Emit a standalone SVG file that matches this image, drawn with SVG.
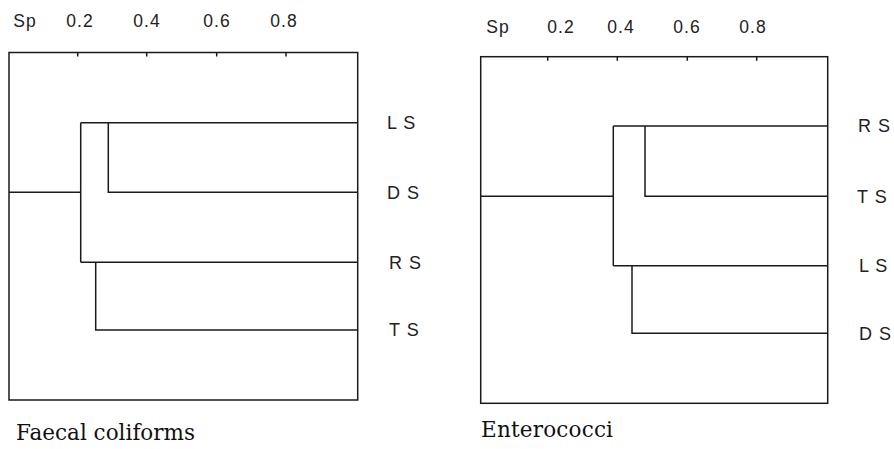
<svg xmlns="http://www.w3.org/2000/svg" width="894" height="449" viewBox="0 0 894 449">
<style>
.box{fill:none;stroke:#1a1a1a;stroke-width:1.5}
.ln{fill:none;stroke:#1a1a1a;stroke-width:1.5}
.ax{font-family:"Liberation Sans",Arial,sans-serif;font-size:17.5px;letter-spacing:1px;fill:#222;text-anchor:middle}
.lb{font-family:"Liberation Sans",Arial,sans-serif;font-size:18px;letter-spacing:1px;fill:#222}
.ttl{font-family:"DejaVu Serif","Liberation Serif",serif;font-size:21.5px;fill:#111}
</style>
<rect width="894" height="449" fill="#fff"/>
<g id="panel-faecal">
  <rect class="box" x="9" y="52.5" width="348.7" height="347.5"/>
  <path class="ln" d="M77.7 52.5V56.5M146.7 52.5V56.5M216.7 52.5V56.5M286 52.5V56.5"/>
  <text class="ax" x="25" y="27">Sp</text>
  <text class="ax" x="80" y="27">0.2</text>
  <text class="ax" x="147" y="27">0.4</text>
  <text class="ax" x="217" y="27">0.6</text>
  <text class="ax" x="284" y="27">0.8</text>
  <text class="ttl" x="16" y="440" textLength="179" lengthAdjust="spacing">Faecal coliforms</text>
</g>
<g id="panel-entero">
  <rect class="box" x="480.7" y="56.7" width="347" height="346.6"/>
  <path class="ln" d="M547.7 56.7V60.7M617.3 56.7V60.7M687.3 56.7V60.7M756.7 56.7V60.7"/>
  <text class="ax" x="498" y="33">Sp</text>
  <text class="ax" x="561" y="33">0.2</text>
  <text class="ax" x="621" y="33">0.4</text>
  <text class="ax" x="687" y="33">0.6</text>
  <text class="ax" x="753" y="33">0.8</text>
  <text class="ttl" x="481" y="437" textLength="132" lengthAdjust="spacing">Enterococci</text>
</g>
<g id="leaf-left-LS"><text class="lb" x="387" y="129">L S</text></g>
<g id="leaf-left-DS"><text class="lb" x="387" y="198.5">D S</text></g>
<g id="leaf-left-RS"><text class="lb" x="389" y="268.5">R S</text></g>
<g id="leaf-left-TS"><text class="lb" x="389" y="336">T S</text></g>
<g id="leaf-right-RS"><text class="lb" x="858" y="132">R S</text></g>
<g id="leaf-right-TS"><text class="lb" x="857" y="202.5">T S</text></g>
<g id="leaf-right-LS"><text class="lb" x="859" y="272">L S</text></g>
<g id="leaf-right-DS"><text class="lb" x="859" y="339.5">D S</text></g>
<g id="connectors">
  <path class="ln" d="M9 192.3H80.7M80.7 122.7V262.3M80.7 122.7H357.7M108.3 122.7V192.3H357.7M80.7 262.3H357.7M95.7 262.3V330H357.7"/>
  <path class="ln" d="M480.7 196.3H613.3M613.3 126V265.7M613.3 126H827.7M645 126V196.3H827.7M613.3 265.7H827.7M632 265.7V333.3H827.7"/>
</g>
</svg>
